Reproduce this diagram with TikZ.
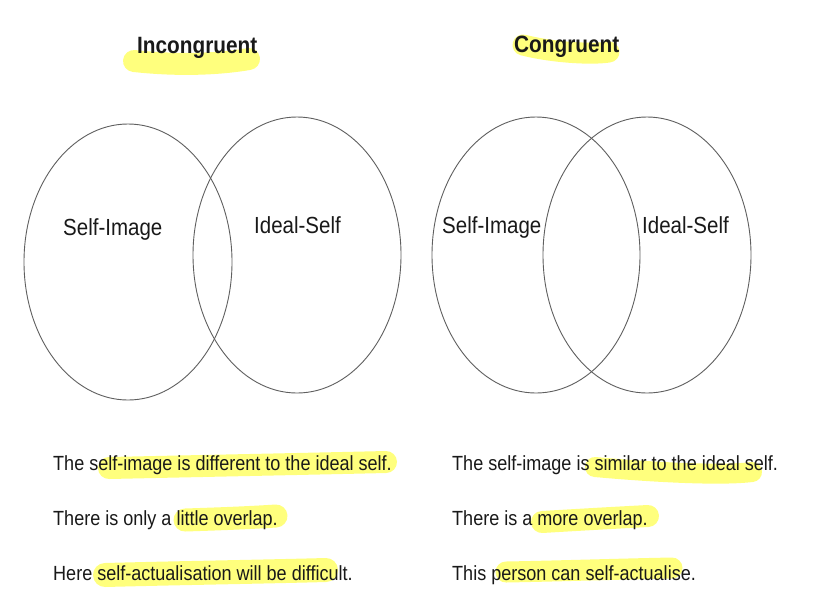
\documentclass[tikz,border=0pt]{standalone}
\usepackage{fontspec}
\setmainfont{Liberation Sans}[FakeStretch=0.88]
\definecolor{hlyellow}{RGB}{255,255,125}
\definecolor{ringgray}{RGB}{95,95,95}
\definecolor{txt}{RGB}{25,25,25}
\begin{document}
\begin{tikzpicture}[x=1pt,y=-1pt,
  hl/.style={draw=hlyellow,line width=22pt,line cap=round},
  ring/.style={draw=ringgray,line width=0.9pt},
  title/.style={anchor=base west,inner sep=0pt,text=txt,font=\fontsize{23.6}{26}\selectfont\bfseries},
  lab/.style={anchor=base west,inner sep=0pt,text=txt,font=\fontsize{23.3}{26}\selectfont},
  line/.style={anchor=base west,inner sep=0pt,text=txt,font=\fontsize{20.5}{24}\selectfont}]
\useasboundingbox (0,0) rectangle (818,611);
\fill[white] (0,0) rectangle (818,611);
% highlights
\draw[hl] (134,61) .. controls (180,66) and (220,64) .. (249,59);
\draw[hl,line width=21pt] (523,45) .. controls (550,52) and (590,55) .. (609,52);
\draw[hl] (109,468) .. controls (200,466) and (300,464) .. (386,462);
\draw[hl,line width=23pt] (185,520) .. controls (215,519) and (245,518) .. (276,516);
\draw[hl,line width=24pt] (105,575) .. controls (180,573) and (250,572) .. (326,570);
\draw[hl,line width=20pt] (595,467) .. controls (650,472) and (720,476) .. (752,472);
\draw[hl] (542,522) .. controls (575,520) and (610,518) .. (648,516);
\draw[hl,line width=21pt] (506,572) .. controls (560,571) and (620,569) .. (672,568);
% ellipses
\draw[ring] (128,262) ellipse [x radius=104pt, y radius=138pt];
\draw[ring] (297,255) ellipse [x radius=104pt, y radius=138pt];
\draw[ring] (536,255) ellipse [x radius=104pt, y radius=138pt];
\draw[ring] (647,255) ellipse [x radius=104pt, y radius=138pt];
% titles
\node[title] (t1) at (137,53) {Incongruent};
\node[title] (t2) at (514,52) {Congruent};
% labels
\node[lab] (si1) at (63,235) {Self-Image};
\node[lab] (is1) at (254,233) {Ideal-Self};
\node[lab] (si2) at (442,233) {Self-Image};
\node[lab] (is2) at (642,233) {Ideal-Self};
% texts
\node[line] (l1) at (53,470) {The self-image is different to the ideal self.};
\node[line] (l2) at (53,525) {There is only a little overlap.};
\node[line] (l3) at (53,580) {Here self-actualisation will be difficult.};
\node[line] (r1) at (452,470) {The self-image is similar to the ideal self.};
\node[line] (r2) at (452,525) {There is a more overlap.};
\node[line] (r3) at (452,580) {This person can self-actualise.};
\end{tikzpicture}
\end{document}
